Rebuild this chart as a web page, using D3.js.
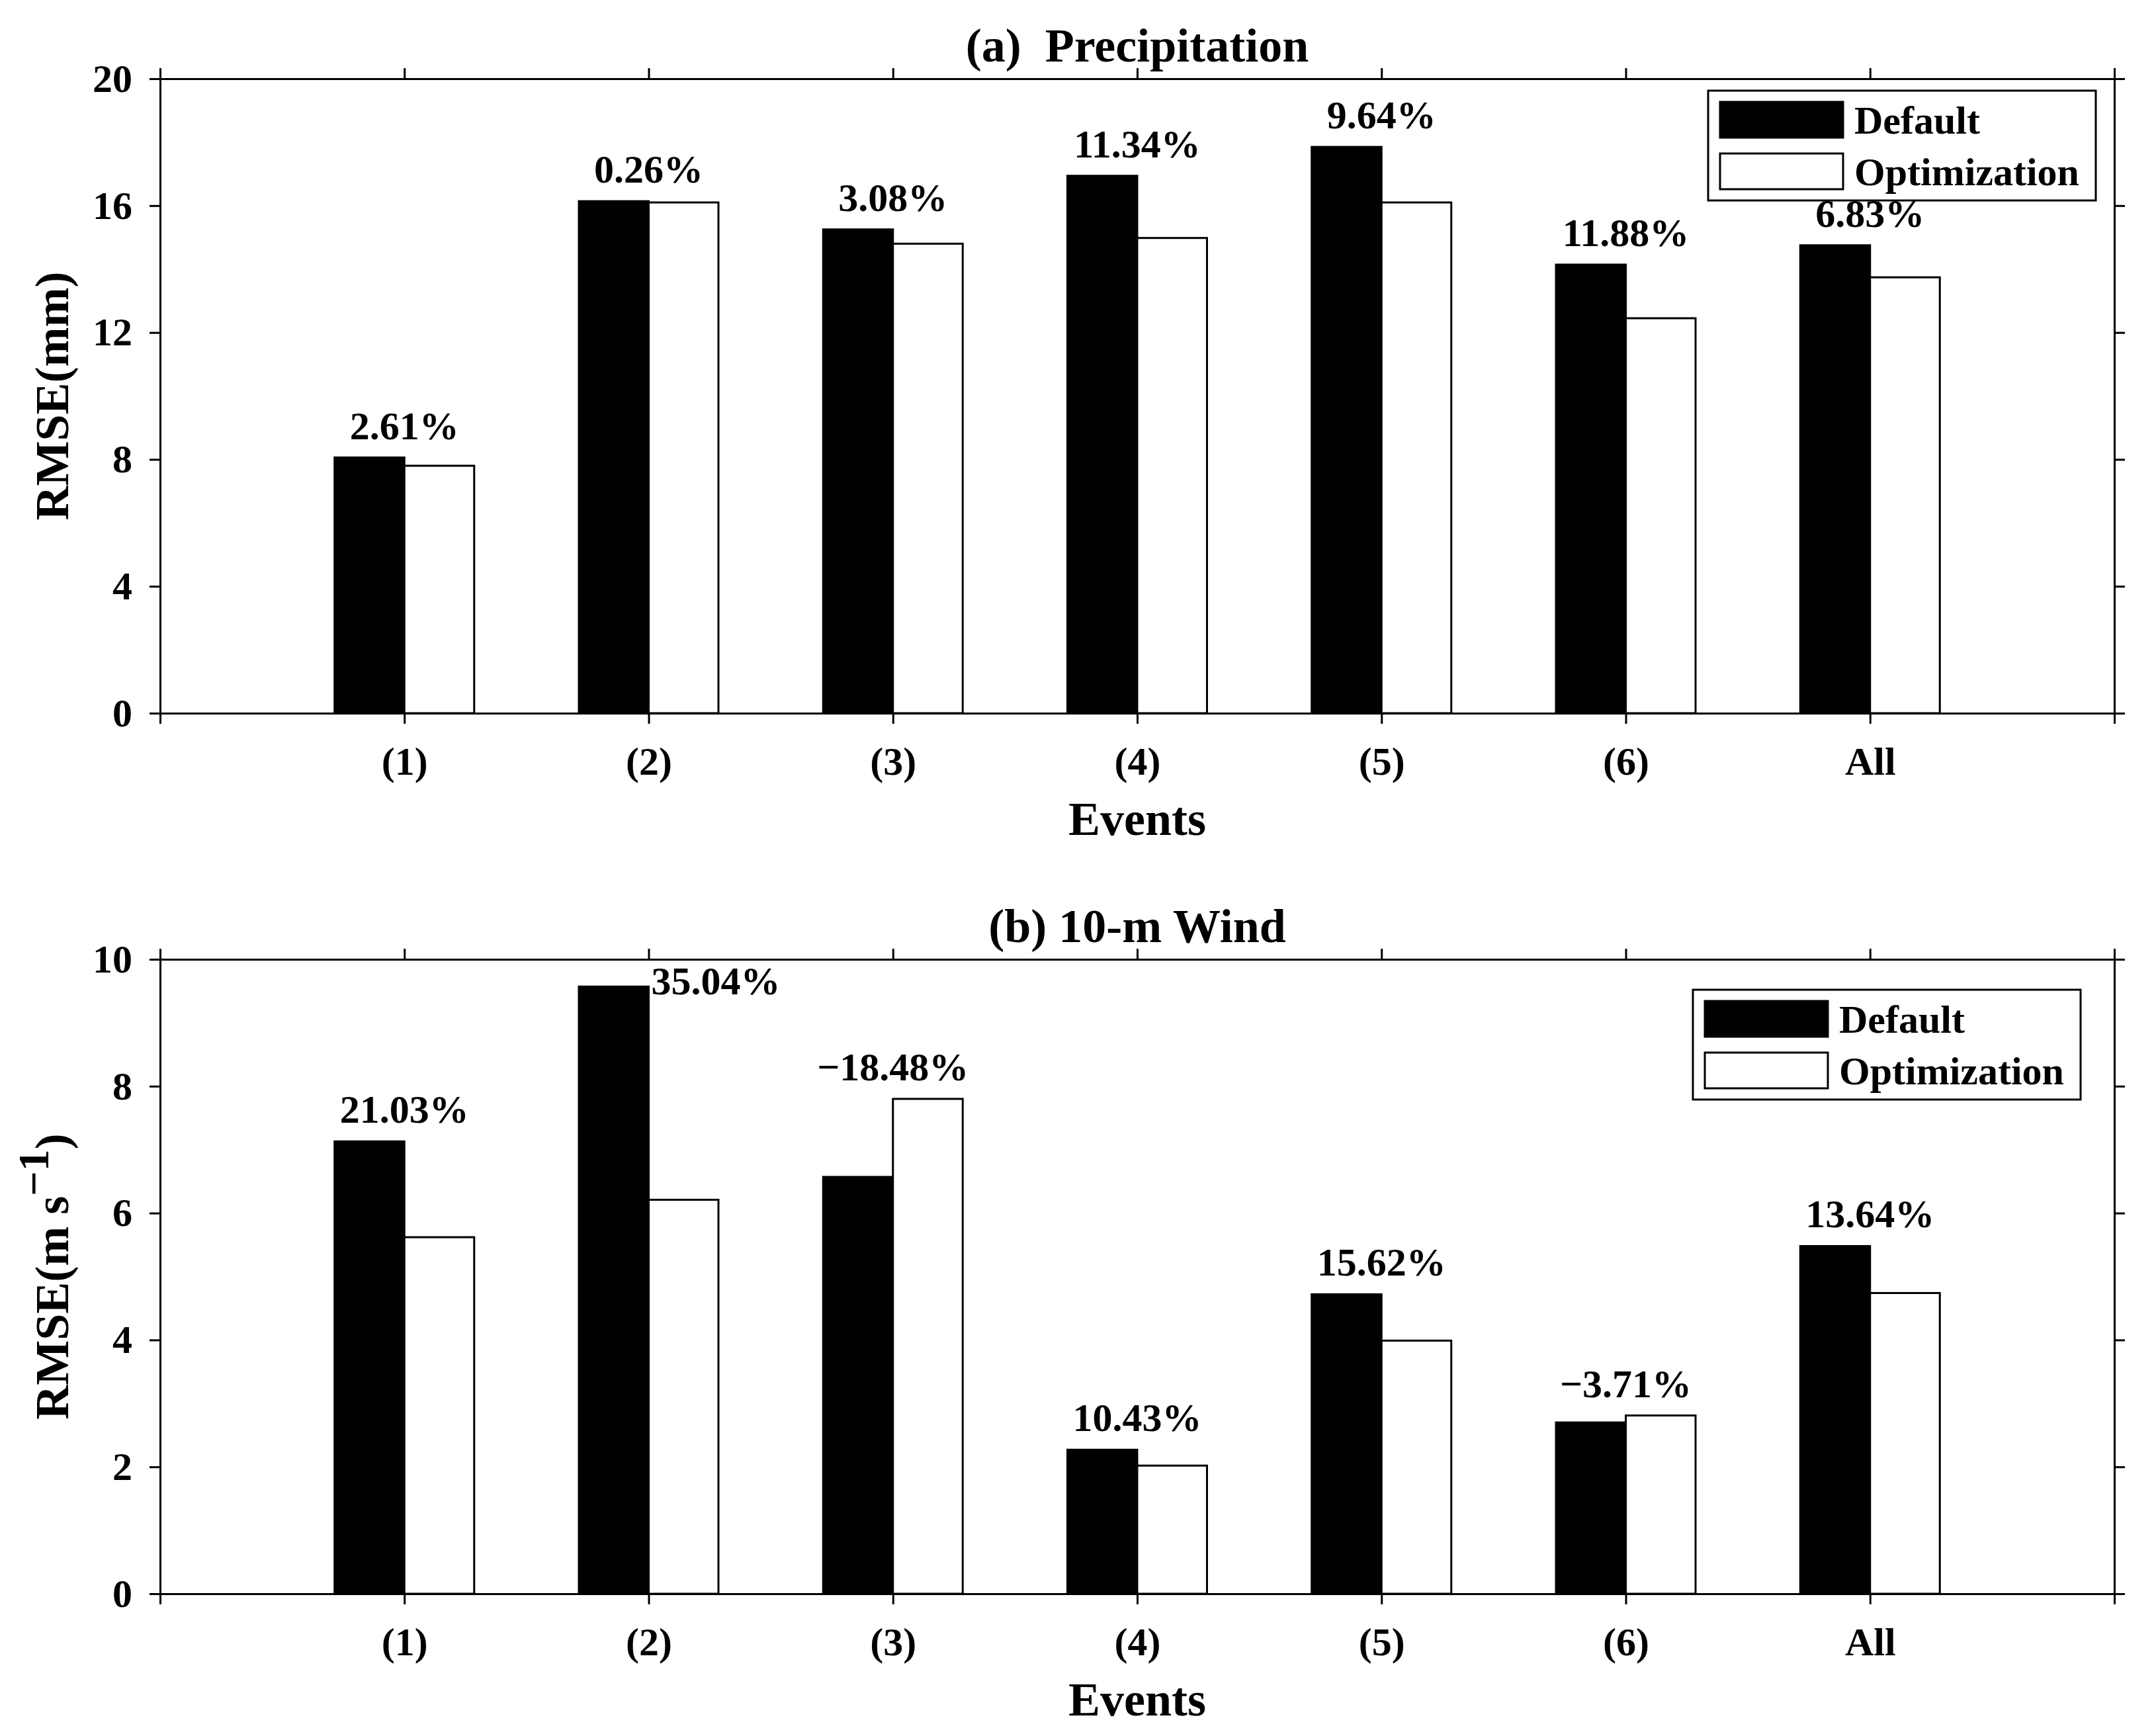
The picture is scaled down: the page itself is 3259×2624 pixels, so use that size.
<!DOCTYPE html>
<html>
<head>
<meta charset="utf-8">
<script src="https://cdn.jsdelivr.net/npm/d3@7"></script>
<style>
  body { margin: 0; background: #fff; }
  svg { display: block; }
  text { font-family: 'Liberation Serif', 'Times New Roman', serif; font-weight: bold; }
</style>
</head>
<body>
<svg id="chart"></svg>
<script>
const categories = ['(1)', '(2)', '(3)', '(4)', '(5)', '(6)', 'All']
const seriesNames = ['Default', 'Optimization']

const precipDefault = [8.06, 16.14, 15.25, 16.94, 17.85, 14.14, 14.75]
const precipOpt = [7.80, 16.10, 14.80, 14.98, 16.10, 12.45, 13.74]
const precipPct = ['2.61%', '0.26%', '3.08%', '11.34%', '9.64%', '11.88%', '6.83%']

const windDefault = [7.13, 9.57, 6.57, 2.27, 4.72, 2.70, 5.48]
const windOpt = [5.62, 6.21, 7.80, 2.02, 3.99, 2.81, 4.74]
const windPct = ['21.03%', '35.04%', '\u221218.48%', '10.43%', '15.62%', '\u22123.71%', '13.64%']

const precipTicks = [0, 4, 8, 12, 16, 20]
const windTicks = [0, 2, 4, 6, 8, 10]

const width = 3259
const height = 2624
const left = 242
const right = 3196
const tickLen = 16
const lineW = 3
const barW = 2 / 7 // 막대 하나의 폭 (x 단위)

const svg = d3.select('#chart')
    .attr('width', width)
    .attr('height', height)

svg.append('rect')
    .attr('width', width)
    .attr('height', height)
    .attr('fill', '#fff')

const x = d3.scaleLinear()
    .domain([0, categories.length + 1])
    .range([left, right])

const panels = [
    {
        title: '(a)  Precipitation',
        yLabel: [{ t: 'RMSE(mm)' }],
        top: 119,
        bottom: 1078,
        yMax: 20,
        yTicks: precipTicks,
        def: precipDefault,
        opt: precipOpt,
        pct: precipPct,
        legend: { x: 2582, y: 137 }
    },
    {
        title: '(b) 10-m Wind',
        yLabel: [{ t: 'RMSE(m s' }, { t: '\u22121', sup: true }, { t: ')' }],
        top: 1450,
        bottom: 2409,
        yMax: 10,
        yTicks: windTicks,
        def: windDefault,
        opt: windOpt,
        pct: windPct,
        legend: { x: 2559, y: 1496 }
    }
]

function styleAxis (g, showText) {
    g.attr('font-size', 60)
        .attr('font-family', "'Liberation Serif', serif")
        .attr('font-weight', 'bold')
    g.selectAll('path, line')
        .attr('stroke', '#000')
        .attr('stroke-width', lineW)
    if (!showText) g.selectAll('text').remove()
    g.selectAll('text').attr('fill', '#000')
}

panels.forEach(p => {
    const y = d3.scaleLinear()
        .domain([0, p.yMax])
        .range([p.bottom, p.top])

    const g = svg.append('g')

    // 막대
    const idx = d3.range(categories.length)
    g.selectAll('rect.def')
        .data(idx)
        .enter()
        .append('rect')
        .attr('class', 'def')
        .attr('x', i => x(i + 1 - barW))
        .attr('y', i => y(p.def[i]))
        .attr('width', x(barW) - x(0))
        .attr('height', i => y(0) - y(p.def[i]))
        .attr('fill', '#000')
        .attr('stroke', '#000')
        .attr('stroke-width', lineW)

    g.selectAll('rect.opt')
        .data(idx)
        .enter()
        .append('rect')
        .attr('class', 'opt')
        .attr('x', i => x(i + 1))
        .attr('y', i => y(p.opt[i]))
        .attr('width', x(barW) - x(0))
        .attr('height', i => y(0) - y(p.opt[i]))
        .attr('fill', '#fff')
        .attr('stroke', '#000')
        .attr('stroke-width', lineW)

    // 축
    const xTickVals = d3.range(0, categories.length + 2)
    const xFmt = i => categories[i - 1] || ''

    g.append('g')
        .attr('transform', `translate(0,${p.bottom})`)
        .call(d3.axisBottom(x).tickValues(xTickVals).tickFormat(xFmt)
            .tickSize(tickLen).tickSizeOuter(0).tickPadding(34))
        .call(s => styleAxis(s, true))

    g.append('g')
        .attr('transform', `translate(0,${p.top})`)
        .call(d3.axisTop(x).tickValues(xTickVals).tickSize(tickLen).tickSizeOuter(0))
        .call(s => styleAxis(s, false))

    g.append('g')
        .attr('transform', `translate(${left},0)`)
        .call(d3.axisLeft(y).tickValues(p.yTicks).tickFormat(d3.format('d'))
            .tickSize(tickLen).tickSizeOuter(0).tickPadding(26))
        .call(s => styleAxis(s, true))

    g.append('g')
        .attr('transform', `translate(${right},0)`)
        .call(d3.axisRight(y).tickValues(p.yTicks).tickSize(tickLen).tickSizeOuter(0))
        .call(s => styleAxis(s, false))

    // 퍼센트 라벨
    idx.forEach(i => {
        const top = Math.max(p.def[i], p.opt[i])
        const yy = y(top) - 28
        const t = g.append('text')
            .attr('font-size', 60)
            .attr('fill', '#000')
            .text(p.pct[i])
        if (yy - 42 < p.top) {
            // 위쪽 경계를 넘으면 막대 오른쪽에 붙인다
            t.attr('x', x(i + 1) + 4)
                .attr('y', y(p.def[i]) + 12)
                .attr('text-anchor', 'start')
        } else {
            t.attr('x', x(i + 1))
                .attr('y', yy)
                .attr('text-anchor', 'middle')
        }
    })

    // 제목, 축 제목
    g.append('text')
        .attr('x', (left + right) / 2)
        .attr('y', p.top - 26)
        .attr('text-anchor', 'middle')
        .attr('font-size', 72)
        .style('white-space', 'pre')
        .text(p.title)

    g.append('text')
        .attr('x', (left + right) / 2)
        .attr('y', p.bottom + 184)
        .attr('text-anchor', 'middle')
        .attr('font-size', 72)
        .text('Events')

    const yl = g.append('text')
        .attr('transform', `translate(103,${(p.top + p.bottom) / 2}) rotate(-90)`)
        .attr('text-anchor', 'middle')
        .attr('font-size', 72)
    p.yLabel.forEach((part, k) => {
        const ts = yl.append('tspan').text(part.t)
        if (part.sup) ts.attr('dy', -30).attr('font-size', 66)
        else if (k > 0 && p.yLabel[k - 1].sup) ts.attr('dy', 30)
    })

    // 범례
    const lg = g.append('g')
        .attr('transform', `translate(${p.legend.x},${p.legend.y})`)
    lg.append('rect')
        .attr('width', 586)
        .attr('height', 166)
        .attr('fill', '#fff')
        .attr('stroke', '#000')
        .attr('stroke-width', lineW)
    const rows = lg.selectAll('g.row')
        .data(seriesNames)
        .enter()
        .append('g')
        .attr('transform', (d, i) => `translate(18,${17 + i * 78})`)
    rows.append('rect')
        .attr('width', 186)
        .attr('height', 54)
        .attr('fill', (d, i) => i === 0 ? '#000' : '#fff')
        .attr('stroke', '#000')
        .attr('stroke-width', lineW)
    rows.append('text')
        .attr('x', 203)
        .attr('y', 48)
        .attr('font-size', 60)
        .attr('fill', '#000')
        .text(d => d)
})
</script>
</body>
</html>
